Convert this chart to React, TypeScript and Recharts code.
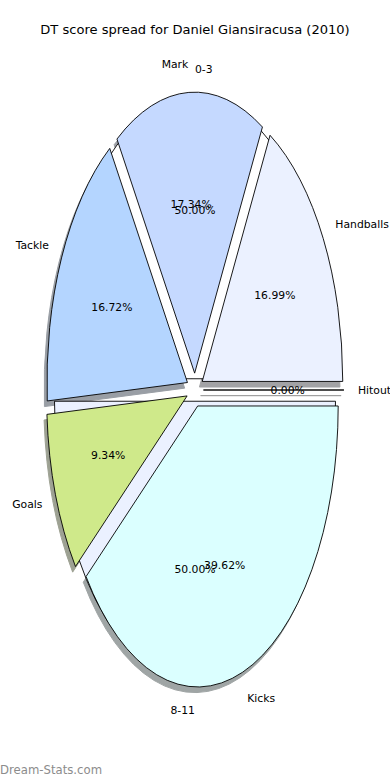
import { PieChart, Pie } from "recharts";

// DT score spread per stat (percent of season total), counter-clockwise from 3 o'clock
const statNames = ["Handballs", "Mark", "Tackle", "Goals", "Kicks", "Hitout"];
const statShares = [16.99, 17.34, 16.72, 9.34, 39.62, 0];

// age bracket split drawn behind the main pie
const ageNames = ["0-3", "8-11"];
const ageShares = [50, 50];

const statColors = ["#ebf1ff", "#c5d9ff", "#b4d5ff", "#cfe98a", "#dbffff", "#e0e0e0"];
const ageColors = ["#ffffff", "#ebf1ff"];

const statData = statNames.map((name, i) => ({ name, share: statShares[i] }));
const ageData = ageNames.map((name, i) => ({ name, share: ageShares[i] }));

// the original axes are not square, so the pie is an ellipse
const RX = 140.5;
const RY = 281;
const RAD = Math.PI / 180;
const FONT = "DejaVu Sans, Liberation Sans, sans-serif";

const pt = (x0: number, y0: number, ang: number, k: number) => [
  x0 + k * RX * Math.cos(ang * RAD),
  y0 - k * RY * Math.sin(ang * RAD),
];

const wedgePath = (x0: number, y0: number, a1: number, a2: number) => {
  const [x1, y1] = pt(x0, y0, a1, 1);
  const [x2, y2] = pt(x0, y0, a2, 1);
  const large = a2 - a1 > 180 ? 1 : 0;
  return `M${x0},${y0}L${x1},${y1}A${RX},${RY} 0 ${large} 0 ${x2},${y2}Z`;
};

const darken = (hex: string) => {
  const n = parseInt(hex.slice(1), 16);
  const r = Math.round(((n >> 16) & 255) * 0.3);
  const g = Math.round(((n >> 8) & 255) * 0.3);
  const b = Math.round((n & 255) * 0.3);
  return `rgb(${r},${g},${b})`;
};

const explodedPath = (props: any, explode: number) => {
  const { cx, cy, startAngle, endAngle, midAngle } = props;
  const ox = cx + explode * RX * Math.cos(midAngle * RAD);
  const oy = cy - explode * RY * Math.sin(midAngle * RAD);
  return wedgePath(ox, oy, startAngle, endAngle);
};

// shadows sit under every wedge of both pies
const shadowLabel = (colors: string[], explode: number) => (props: any) => {
  const sc = darken(colors[props.index]);
  return (
    <path
      key={`s${props.index}`}
      d={explodedPath(props, explode)}
      transform={`translate(${-0.02 * RX},${0.02 * RY})`}
      fill={sc}
      stroke={sc}
      strokeWidth={1}
      opacity={0.5}
    />
  );
};

const wedgeLabel = (colors: string[], explode: number) => (props: any) => (
  <path
    key={`w${props.index}`}
    d={explodedPath(props, explode)}
    fill={colors[props.index]}
    stroke="#000"
    strokeWidth={0.9}
  />
);

const textLabel = (explode: number) => (props: any) => {
  const { cx, cy, midAngle, percent, name, index } = props;
  const c = Math.cos(midAngle * RAD);
  const s = Math.sin(midAngle * RAD);
  const lx = cx + (explode + 1.1) * RX * c;
  const ly = cy - (explode + 1.1) * RY * s;
  const px = cx + (explode + 0.6) * RX * c;
  const py = cy - (explode + 0.6) * RY * s;
  return (
    <g key={`t${index}`} fontFamily={FONT} fontSize={10.8} fill="#000">
      <text x={lx} y={ly} textAnchor={c > 0 ? "start" : "end"} dominantBaseline="central">
        {name}
      </text>
      <text x={px} y={py} textAnchor="middle" dominantBaseline="central">
        {(percent * 100).toFixed(2)}%
      </text>
    </g>
  );
};

const pieCommon = {
  dataKey: "share",
  nameKey: "name",
  cx: 195,
  cy: 390,
  outerRadius: 100,
  fill: "none",
  stroke: "none",
  labelLine: false,
  isAnimationActive: false,
};

export default function App() {
  return (
    <div style={{ position: "absolute", left: 0, top: 0, width: 390, height: 780, background: "#fff" }}>
      <PieChart width={390} height={780} margin={{ top: 0, right: 0, bottom: 0, left: 0 }}>
        <Pie {...pieCommon} data={statData} label={shadowLabel(statColors, 0.06)} isAnimationActive={false} />
        <Pie {...pieCommon} data={ageData} label={wedgeLabel(ageColors, 0.04)} isAnimationActive={false} />
        <Pie {...pieCommon} data={statData} label={wedgeLabel(statColors, 0.06)} isAnimationActive={false} />
        <Pie {...pieCommon} data={statData} label={textLabel(0.06)} isAnimationActive={false} />
        <Pie {...pieCommon} data={ageData} label={textLabel(0.04)} isAnimationActive={false} />
      </PieChart>
      <svg
        width={390}
        height={780}
        style={{ position: "absolute", left: 0, top: 0, pointerEvents: "none" }}
      >
        <text x={195} y={34} textAnchor="middle" fontFamily={FONT} fontSize={13.05} fill="#000">
          DT score spread for Daniel Giansiracusa (2010)
        </text>
        <text x={0} y={774} fontFamily={FONT} fontSize={11.7} fill="#8c8c8c">
          Dream-Stats.com
        </text>
      </svg>
    </div>
  );
}
